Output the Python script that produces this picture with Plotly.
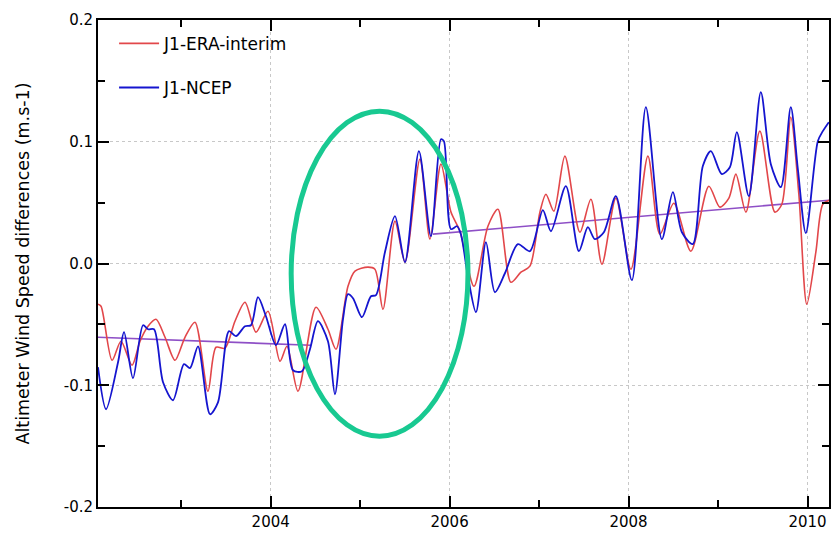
import plotly.graph_objects as go

# J1-ERA-interim (red)
era_t = [2002.070, 2002.104, 2002.227, 2002.327, 2002.450, 2002.540, 2002.629, 2002.718, 2002.819, 2002.931,
         2003.042, 2003.154, 2003.299, 2003.389, 2003.489, 2003.601, 2003.713, 2003.836, 2003.970, 2004.104,
         2004.182, 2004.305, 2004.506, 2004.640, 2004.730, 2004.864, 2004.942, 2005.087, 2005.165, 2005.255,
         2005.389, 2005.501, 2005.668, 2005.780, 2005.903, 2006.015, 2006.115, 2006.272, 2006.428, 2006.540,
         2006.685, 2006.797, 2006.897, 2007.009, 2007.076, 2007.165, 2007.288, 2007.456, 2007.579, 2007.702,
         2007.858, 2008.026, 2008.216, 2008.350, 2008.506, 2008.696, 2008.897, 2009.020, 2009.121, 2009.199,
         2009.311, 2009.467, 2009.635, 2009.713, 2009.813, 2009.903, 2009.992, 2010.093, 2010.171, 2010.249]
era_v = [-0.0334, -0.0351, -0.0795, -0.0638, -0.0836, -0.0638, -0.0515, -0.0458, -0.0606, -0.0795,
         -0.0606, -0.0482, -0.1049, -0.0688, -0.0696, -0.0474, -0.0318, -0.0564, -0.0392, -0.0803,
         -0.0680, -0.1049, -0.0359, -0.0540, -0.0704, -0.0187, -0.0063, -0.0030, -0.0047, -0.0376,
         0.0348, 0.0011, 0.0857, 0.0200, 0.0816, 0.0422, 0.0265, -0.0187, 0.0306, 0.0446,
         -0.0154, -0.0071, -0.0022, 0.0422, 0.0569, 0.0430, 0.0882, 0.0257, 0.0528, -0.0006,
         0.0537, -0.0047, 0.0882, 0.0241, 0.0495, 0.0101, 0.0635, 0.0463, 0.0537, 0.0734,
         0.0422, 0.1087, 0.0422, 0.0487, 0.1202, 0.0569, -0.0334, 0.0093, 0.0487, 0.0520]

# J1-NCEP (blue)
ncep_t = [2002.070, 2002.160, 2002.294, 2002.361, 2002.461, 2002.573, 2002.629, 2002.696, 2002.797, 2002.908,
          2003.031, 2003.098, 2003.188, 2003.322, 2003.411, 2003.534, 2003.612, 2003.713, 2003.780, 2003.858,
          2003.947, 2004.059, 2004.160, 2004.249, 2004.350, 2004.439, 2004.528, 2004.640, 2004.718, 2004.808,
          2004.864, 2004.920, 2005.020, 2005.121, 2005.177, 2005.277, 2005.389, 2005.501, 2005.657, 2005.791,
          2005.903, 2005.936, 2006.015, 2006.082, 2006.126, 2006.204, 2006.294, 2006.406, 2006.506, 2006.618,
          2006.763, 2006.897, 2007.042, 2007.132, 2007.299, 2007.445, 2007.545, 2007.623, 2007.724, 2007.858,
          2008.037, 2008.193, 2008.372, 2008.495, 2008.596, 2008.718, 2008.830, 2008.920, 2009.042, 2009.132,
          2009.210, 2009.344, 2009.478, 2009.590, 2009.702, 2009.813, 2009.892, 2009.981, 2010.115, 2010.171,
          2010.238]
ncep_v = [-0.0852, -0.1197, -0.0811, -0.0564, -0.0942, -0.0507, -0.0540, -0.0540, -0.0975, -0.1123,
          -0.0827, -0.0860, -0.0680, -0.1238, -0.1140, -0.0556, -0.0597, -0.0515, -0.0507, -0.0277,
          -0.0433, -0.0671, -0.0499, -0.0877, -0.0885, -0.0704, -0.0474, -0.0638, -0.1074, -0.0458,
          -0.0252, -0.0285, -0.0441, -0.0269, -0.0260, 0.0093, 0.0389, 0.0011, 0.0923, 0.0224,
          0.1021, 0.1005, 0.0282, 0.0306, 0.0241, -0.0104, -0.0400, 0.0175, -0.0236, -0.0080,
          0.0159, 0.0101, 0.0438, 0.0265, 0.0635, 0.0101, 0.0298, 0.0200, 0.0257, 0.0553,
          -0.0137, 0.1284, 0.0200, 0.0586, 0.0257, 0.0159, 0.0800, 0.0923, 0.0734, 0.0791,
          0.1079, 0.0553, 0.1408, 0.0816, 0.0627, 0.1284, 0.0775, 0.0249, 0.1005, 0.1087,
          0.1161]

# Trend lines (purple)
trend1_t = [2002.070, 2004.450]
trend1_v = [-0.0606, -0.0671]
trend2_t = [2005.813, 2010.238]
trend2_v = [0.0241, 0.0520]

# Highlight ellipse (years / values)
ell_t = [2004.229, 2006.205]
ell_v = [-0.1419, 0.1251]

x_ticks = [2004, 2006, 2008, 2010]
y_ticks = [-0.2, -0.1, 0.0, 0.1, 0.2]
y_labels = ["-0.2", "-0.1", "0.0", "0.1", "0.2"]

RED = "#e2474a"
BLUE = "#1515cf"
PURPLE = "#8e4fc6"
GREEN = "#18c991"

fig = go.Figure()
fig.add_trace(go.Scatter(x=trend1_t, y=trend1_v, mode="lines", line=dict(color=PURPLE, width=1.6),
                         showlegend=False, hoverinfo="skip"))
fig.add_trace(go.Scatter(x=trend2_t, y=trend2_v, mode="lines", line=dict(color=PURPLE, width=1.6),
                         showlegend=False, hoverinfo="skip"))
fig.add_trace(go.Scatter(x=era_t, y=era_v, mode="lines", name="J1-ERA-interim",
                         line=dict(color=RED, width=1.6, shape="spline", smoothing=0.8),
                         legendgroup="a"))
fig.add_trace(go.Scatter(x=ncep_t, y=ncep_v, mode="lines", name="J1-NCEP",
                         line=dict(color=BLUE, width=1.8, shape="spline", smoothing=0.8),
                         legendgroup="b"))

fig.add_shape(type="circle", xref="x", yref="y", x0=ell_t[0], x1=ell_t[1], y0=ell_v[0], y1=ell_v[1],
              line=dict(color=GREEN, width=5), layer="above")

axis_common = dict(
    showline=True, linecolor="black", linewidth=2, mirror="ticks",
    ticks="inside", tickcolor="black", tickwidth=1.5,
    showgrid=True, gridcolor="#c8c8c8", gridwidth=1, griddash="3px,3px",
    zeroline=False,
    tickfont=dict(family="DejaVu Sans", size=15, color="black"),
)

fig.update_layout(
    width=834, height=537,
    margin=dict(l=98, r=3, t=20, b=30),
    paper_bgcolor="white", plot_bgcolor="white",
    font=dict(family="DejaVu Sans", color="black"),
    xaxis=dict(range=[2002.07, 2010.24], tickmode="array", tickvals=x_ticks,
               ticktext=[str(v) for v in x_ticks], ticklen=11,
               minor=dict(dtick=1, tick0=2003, ticks="inside", ticklen=7, tickcolor="black",
                          showgrid=False),
               **axis_common),
    yaxis=dict(range=[-0.2, 0.2], tickmode="array", tickvals=y_ticks, ticktext=y_labels,
               ticklen=11,
               minor=dict(dtick=0.05, tick0=0, ticks="inside", ticklen=7, tickcolor="black",
                          showgrid=False),
               title=dict(text="Altimeter Wind Speed differences (m.s-1)",
                          font=dict(family="DejaVu Sans", size=17.5, color="black"), standoff=30),
               **axis_common),
    legend=dict(x=0.022, y=0.988, xanchor="left", yanchor="top", bgcolor="rgba(0,0,0,0)",
                font=dict(family="DejaVu Sans", size=17, color="black"),
                traceorder="grouped", tracegroupgap=19, itemwidth=40),
)

fig.write_html("out.html")
